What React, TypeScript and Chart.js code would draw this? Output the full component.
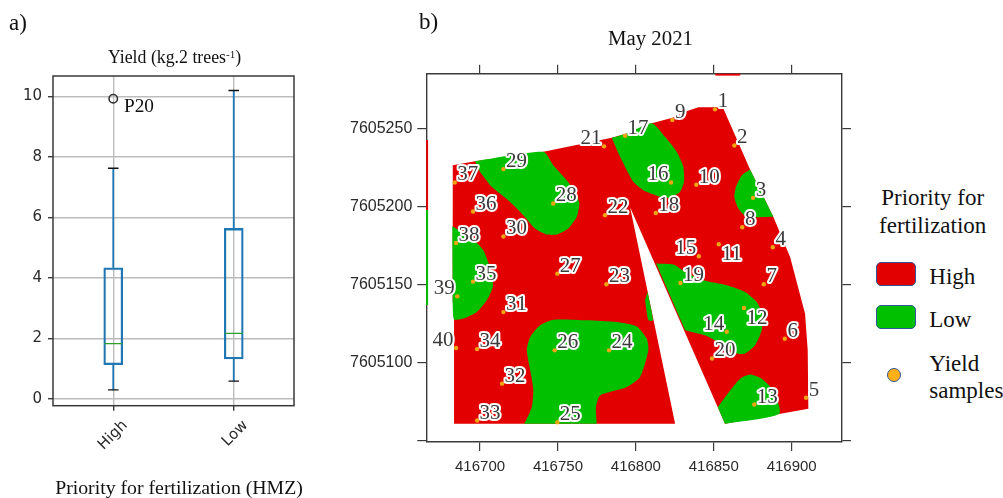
import React, { useEffect, useRef } from "react";
import { Chart, registerables } from "chart.js";

Chart.register(...registerables);

// ---------- panel a: yield box plot ----------
const categories = ["High", "Low"];
const whiskerLow = [0.29, 0.58];
const q1 = [1.13, 1.32];
const median = [1.82, 2.16];
const q3 = [4.33, 5.63];
const whiskerHigh = [7.62, 10.19];
const outlierCategory = "High";
const outlierValue = 9.92;

// ---------- panel b: map polygons (UTM easting / northing) ----------
const fieldX = [416682.5, 416696.8, 416740.6, 416784.5, 416794.2, 416810.2, 416824.1, 416831.6, 416840.1, 416855.8, 416873.3, 416888.2, 416899, 416908.6, 416910.3, 416910.7, 416857.2, 416796.3, 416825.2, 416683.3, 416683.3, 416682.4];
const fieldY = [7605226.8, 7605229.4, 7605235.4, 7605244.4, 7605247.2, 7605253.7, 7605257.5, 7605261.1, 7605264, 7605264, 7605224.1, 7605193.6, 7605167.8, 7605131.4, 7605107.8, 7605070.3, 7605060.6, 7605199.8, 7605060.6, 7605060.6, 7605127.7, 7605140];

const low1X = [416696.8, 416740.6, 416747, 416755.6, 416761, 416763.7, 416762.1, 416756.7, 416749.2, 416742.8, 416735.3, 416727.8, 416719.3, 416707.5, 416700];
const low1Y = [7605229.4, 7605235.4, 7605226.8, 7605217.2, 7605209.7, 7605202.2, 7605193.6, 7605186.1, 7605182.2, 7605182.2, 7605186.1, 7605194.7, 7605203.2, 7605212.9, 7605222.5];
const low2X = [416784.5, 416794.2, 416810.2, 416818.7, 416826.2, 416830.5, 416830.9, 416828.4, 416821.9, 416814.4, 416804.8, 416798.4, 416793.1, 416788.8];
const low2Y = [7605244.4, 7605247.2, 7605253.7, 7605245, 7605235.4, 7605225.7, 7605216.1, 7605209.7, 7605206, 7605206.9, 7605210.7, 7605216.1, 7605225.7, 7605234.4];
const low3X = [416873.3, 416868, 416864.3, 416863.2, 416865.8, 416871.2, 416888.2];
const low3Y = [7605224.1, 7605220.4, 7605212.9, 7605206.4, 7605199, 7605193.6, 7605193.6];
const low4X = [416682.2, 416693.6, 416702.1, 416707.5, 416708.2, 416704.3, 416697.9, 416690.4, 416683.3, 416682.4];
const low4Y = [7605187.6, 7605180.7, 7605172.1, 7605157.1, 7605148.5, 7605140, 7605132.4, 7605128.6, 7605127.7, 7605140];
const low5X = [416728.4, 416733.2, 416734.2, 416733.2, 416730, 416732.1, 416738.5, 416747, 416768.5, 416787.7, 416800.6, 416807, 416808, 416802.7, 416794.2, 416777, 416774.4, 416774.9];
const low5Y = [7605060.6, 7605071.3, 7605082, 7605089.6, 7605107.8, 7605116.3, 7605123.9, 7605127.5, 7605127.1, 7605126, 7605123.2, 7605115.3, 7605107.8, 7605090.6, 7605084.2, 7605078.8, 7605071.3, 7605060.6];
const low6X = [416807.5, 416811, 416808, 416805.9];
const low6Y = [7605145.3, 7605127.1, 7605127.1, 7605140];
const low7X = [416813, 416824.1, 416831.6, 416843.3, 416858.3, 416870.1, 416877.6, 416881.4, 416880.8, 416876.5, 416870.1, 416864.7, 416856.1, 416845.5, 416831.6];
const low7Y = [7605163.6, 7605162.9, 7605158.2, 7605152.8, 7605149.6, 7605145.3, 7605138.9, 7605130.3, 7605120.7, 7605111, 7605105.7, 7605105.7, 7605111, 7605117, 7605120.7];
const low8X = [416852.6, 416860.5, 416866.9, 416873.3, 416880.8, 416888.2, 416892.1, 416857.2];
const low8Y = [7605071.3, 7605082, 7605089.6, 7605092.3, 7605089.6, 7605082, 7605067.1, 7605060.6];

const lowZones: [number[], number[]][] = [
  [low1X, low1Y], [low2X, low2Y], [low3X, low3Y], [low4X, low4Y],
  [low5X, low5Y], [low6X, low6Y], [low7X, low7Y], [low8X, low8Y],
];

// Yield samples 1..40
const sampleX = [416850.8, 416863.2, 416875.2, 416887.9, 416909.2, 416895.6, 416882.1, 416868.3, 416823.4, 416838.8, 416853.2, 416869.4, 416876, 416858.3, 416840.4, 416822.6, 416793.1, 416812.8, 416828.6, 416848.9, 416779.6, 416780.2, 416781.1, 416782.8, 416749.6, 416747.9, 416749.6, 416747, 416715, 416715, 416715, 416714.1, 416698.1, 416698.1, 416695.5, 416695.5, 416683.8, 416684.6, 416685.4, 416684.6];
const sampleY = [7605262.7, 7605239.5, 7605205.8, 7605174.1, 7605077.3, 7605115.3, 7605150.3, 7605186.9, 7605255.8, 7605214.2, 7605176, 7605135, 7605073, 7605119.8, 7605168.3, 7605215.7, 7605245.7, 7605196.1, 7605151.1, 7605102.6, 7605238.9, 7605194.7, 7605150.3, 7605107.8, 7605061.6, 7605107.8, 7605157.1, 7605202.2, 7605224.3, 7605181, 7605132.4, 7605086.4, 7605062.7, 7605108.6, 7605152, 7605197, 7605215.7, 7605176.8, 7605142.5, 7605109.3];
const leftLabelled = [14, 15, 16, 21, 39, 40];
const belowLabelled = [11, 12];

const edgeRedLeftX = [416666, 416666];
const edgeRedLeftY = [7605243, 7605198];
const edgeGreenLeftX = [416666, 416666];
const edgeGreenLeftY = [7605198, 7605137];
const edgeRedTopX = [416851, 416867];
const edgeRedTopY = [7605285, 7605285];

const xTicksMap = [416700, 416750, 416800, 416850, 416900];
const yTicksMap = [7605050, 7605100, 7605150, 7605200, 7605250];
const yLabelledMap = [7605100, 7605150, 7605200, 7605250];

const RED = "#e20000";
const GREEN = "#00c000";
const BLUE = "#1f77b4";
const AXIS = "#3a3a3a";
const SERIF = '"Liberation Serif", serif';

const zip = (xs: number[], ys: number[]) => xs.map((x, i) => ({ x, y: ys[i] }));

const framePlugin = {
  id: "frame",
  afterDraw(chart: any) {
    const { ctx, chartArea: a } = chart;
    ctx.save();
    ctx.strokeStyle = AXIS;
    ctx.lineWidth = 1.5;
    ctx.strokeRect(a.left, a.top, a.right - a.left, a.bottom - a.top);
    ctx.restore();
  },
};

const sampleLabelPlugin = {
  id: "sampleLabels",
  afterDatasetsDraw(chart: any) {
    const { ctx, scales } = chart;
    ctx.save();
    ctx.font = `21px ${SERIF}`;
    ctx.textAlign = "center";
    ctx.textBaseline = "middle";
    ctx.lineJoin = "round";
    sampleX.forEach((x, i) => {
      const id = i + 1;
      const px = scales.x.getPixelForValue(x);
      const py = scales.y.getPixelForValue(sampleY[i]);
      let dx = id < 10 ? 8 : 13;
      let dy = -7.5;
      if (leftLabelled.includes(id)) dx = -13;
      if (belowLabelled.includes(id)) dy = 10.5;
      const label = String(id);
      ctx.strokeStyle = "#ffffff";
      ctx.lineWidth = 4;
      ctx.strokeText(label, px + dx, py + dy);
      ctx.fillStyle = "#3a3a3a";
      ctx.fillText(label, px + dx, py + dy);
    });
    ctx.restore();
  },
};

function makeBox(canvas: HTMLCanvasElement) {
  const tickFont = { family: '"DejaVu Sans"', size: 15 };
  const line = (cat: string, a: number, b: number) => ({
    type: "line",
    data: [{ x: cat, y: a }, { x: cat, y: b }],
    borderColor: BLUE,
    borderWidth: 1.8,
    pointRadius: 0,
    order: 2,
  });
  return new Chart(canvas, {
    type: "bar",
    plugins: [framePlugin],
    data: {
      labels: categories,
      datasets: [
        {
          type: "line",
          data: categories.map((c, i) => ({ x: c, y: median[i] })),
          showLine: false,
          pointStyle: "line",
          pointRadius: 9,
          pointBorderColor: "#2ca02c",
          pointBorderWidth: 1.3,
          order: 0,
        },
        {
          type: "line",
          data: categories.flatMap((c, i) => [{ x: c, y: whiskerLow[i] }, { x: c, y: whiskerHigh[i] }]),
          showLine: false,
          pointStyle: "line",
          pointRadius: 5.3,
          pointBorderColor: "#111111",
          pointBorderWidth: 1.3,
          order: 1,
        },
        {
          type: "line",
          data: [{ x: outlierCategory, y: outlierValue }],
          showLine: false,
          pointRadius: 4.2,
          pointBackgroundColor: "rgba(0,0,0,0)",
          pointBorderColor: "#333333",
          pointBorderWidth: 1.6,
          order: 1,
        },
        ...categories.flatMap((c, i) => [line(c, whiskerLow[i], q1[i]), line(c, q3[i], whiskerHigh[i])]),
        {
          type: "bar",
          data: categories.map((_, i) => [q1[i], q3[i]]),
          backgroundColor: "rgba(0,0,0,0)",
          borderColor: BLUE,
          borderWidth: 1.6,
          borderSkipped: false,
          barThickness: 19,
          order: 3,
        },
      ] as any,
    },
    options: {
      responsive: false,
      animation: false,
      events: [],
      layout: { padding: { top: 76, right: 51, left: 0, bottom: 0 } },
      plugins: { legend: { display: false }, tooltip: { enabled: false }, title: { display: false } },
      scales: {
        x: {
          type: "category",
          afterFit: (s: any) => { s.height = 92.3; },
          grid: { offset: false, color: "#bcbcbc", lineWidth: 1.4, tickLength: 5, tickColor: AXIS },
          border: { display: false },
          ticks: { font: tickFont, color: "#2a2a2a", minRotation: 45, maxRotation: 45, labelOffset: 12, padding: 6 },
        },
        y: {
          min: -0.23,
          max: 10.67,
          afterFit: (s: any) => { s.width = 53; },
          grid: { color: "#bcbcbc", lineWidth: 1.4, tickLength: 5, tickColor: AXIS },
          border: { display: false },
          ticks: { stepSize: 2, includeBounds: false, font: tickFont, color: "#2a2a2a", padding: 6 },
        },
      },
    } as any,
  });
}

function makeMap(canvas: HTMLCanvasElement) {
  const poly = (xs: number[], ys: number[], color: string, tension: number) => ({
    data: zip(xs, ys),
    showLine: true,
    fill: "shape",
    backgroundColor: color,
    borderColor: color,
    borderWidth: 0,
    tension,
    pointRadius: 0,
  });
  const edge = (xs: number[], ys: number[], color: string) => ({
    data: zip(xs, ys),
    showLine: true,
    fill: false,
    borderColor: color,
    borderWidth: 2,
    pointRadius: 0,
    clip: false,
  });
  const gridOpts = { drawOnChartArea: false, tickLength: 9, tickColor: AXIS, lineWidth: 1.2 };
  const border = { display: true, color: AXIS, width: 1.4 };
  const xLimits = { min: 416665.5, max: 416932.3 };
  const yLimits = { min: 7605048.9, max: 7605285.6 };
  const fixTicks = (values: number[]) => (s: any) => { s.ticks = values.map((value) => ({ value })); };
  return new Chart(canvas, {
    type: "scatter",
    plugins: [sampleLabelPlugin],
    data: {
      datasets: [
        {
          data: zip(sampleX, sampleY),
          pointRadius: 2.2,
          pointBackgroundColor: "#eea50f",
          pointBorderWidth: 0,
          showLine: false,
        },
        edge(edgeRedLeftX, edgeRedLeftY, RED),
        edge(edgeGreenLeftX, edgeGreenLeftY, GREEN),
        edge(edgeRedTopX, edgeRedTopY, RED),
        ...lowZones.map(([xs, ys]) => poly(xs, ys, GREEN, 0.2)),
        poly(fieldX, fieldY, RED, 0),
      ] as any,
    },
    options: {
      responsive: false,
      animation: false,
      events: [],
      plugins: { legend: { display: false }, tooltip: { enabled: false } },
      scales: {
        x: {
          type: "linear", position: "bottom", ...xLimits,
          afterFit: (s: any) => { s.height = 56; },
          afterBuildTicks: fixTicks(xTicksMap),
          grid: gridOpts, border,
          ticks: { font: { family: '"Liberation Sans"', size: 15 }, color: "#2a2a2a", padding: 7, maxRotation: 0, callback: (v: any) => String(v) },
        },
        x2: {
          type: "linear", position: "top", ...xLimits,
          afterFit: (s: any) => { s.height = 73.7; },
          afterBuildTicks: fixTicks(xTicksMap),
          grid: gridOpts, border,
          ticks: { display: false },
        },
        y: {
          type: "linear", position: "left", ...yLimits,
          afterFit: (s: any) => { s.width = 81.3; },
          afterBuildTicks: fixTicks(yTicksMap),
          grid: gridOpts, border,
          ticks: { font: { family: '"Liberation Sans"', size: 16 }, color: "#2a2a2a", padding: 5, callback: (v: any) => (yLabelledMap.includes(v) ? String(v) : "") },
        },
        y2: {
          type: "linear", position: "right", ...yLimits,
          afterFit: (s: any) => { s.width = 23; },
          afterBuildTicks: fixTicks(yTicksMap),
          grid: gridOpts, border,
          ticks: { display: false },
        },
      },
    } as any,
  });
}

const T = (p: {
  x: number; y: number; size: number; center?: boolean; children: React.ReactNode;
}) => (
  <div
    style={{
      position: "absolute",
      left: p.x,
      top: p.y,
      transform: p.center ? "translate(-50%, -50%)" : "translateY(-50%)",
      fontFamily: SERIF,
      fontSize: p.size,
      lineHeight: 1,
      color: "#111",
      whiteSpace: "nowrap",
    }}
  >
    {p.children}
  </div>
);

const swatch = (top: number, color: string) => (
  <div
    style={{
      position: "absolute", left: 876, top, width: 38, height: 22,
      background: color, border: "1.5px solid #2f5597", borderRadius: 5,
    }}
  />
);

const soft = { position: "absolute", top: 0, filter: "blur(0.35px)" } as const;

export default function App() {
  const boxRef = useRef<HTMLCanvasElement>(null);
  const mapRef = useRef<HTMLCanvasElement>(null);
  useEffect(() => {
    const a = makeBox(boxRef.current!);
    const b = makeMap(mapRef.current!);
    return () => { a.destroy(); b.destroy(); };
  }, []);
  return (
    <div style={{ position: "absolute", left: 0, top: 0, width: 1003, height: 498, overflow: "hidden", background: "#fff" }}>
      <canvas ref={boxRef} width={345} height={498} style={{ ...soft, left: 0 }} />
      <canvas ref={mapRef} width={520} height={498} style={{ ...soft, left: 345 }} />
      <T x={9} y={22} size={23}>a)</T>
      <T x={419} y={21} size={23}>b)</T>
      <T x={174.5} y={58} size={17.8} center>
        Yield (kg.2 trees<sup style={{ fontSize: "0.62em", verticalAlign: "0.5em", lineHeight: 0 }}>-1</sup>)
      </T>
      <T x={124} y={105.5} size={19.3}>P20</T>
      <T x={179} y={488} size={19.8} center>Priority for fertilization (HMZ)</T>
      <T x={650.5} y={38} size={20.8} center>May 2021</T>
      <T x={932.7} y={197} size={23} center>Priority for</T>
      <T x={932.7} y={225} size={23} center>fertilization</T>
      {swatch(261.7, RED)}
      {swatch(305.3, GREEN)}
      <div style={{ position: "absolute", left: 886.5, top: 368.2, width: 12, height: 12, borderRadius: "50%", background: "#ffb014", border: "1.5px solid #2f5597" }} />
      <T x={929.3} y={276} size={23}>High</T>
      <T x={929.3} y={319} size={23}>Low</T>
      <T x={929.3} y={362.7} size={23}>Yield</T>
      <T x={929.3} y={390} size={23}>samples</T>
    </div>
  );
}
